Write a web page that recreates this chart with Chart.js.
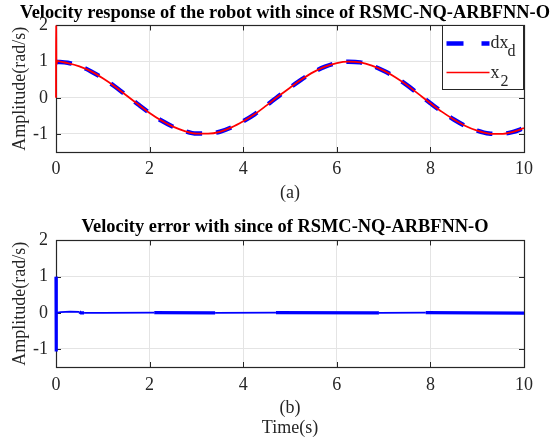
<!DOCTYPE html>
<html>
<head>
<meta charset="utf-8">
<script src="https://cdn.jsdelivr.net/npm/chart.js@4.4.1/dist/chart.umd.min.js"></script>
<style>
  body { margin: 0; background: #fff; }
  #wrap { position: relative; width: 560px; height: 443px; }
  .box { position: absolute; left: 0; width: 560px; }
</style>
</head>
<body>
<div id="wrap">
  <div class="box" style="top:0"><canvas id="responseChart" width="560" height="205"></canvas></div>
  <div class="box" style="top:200px"><canvas id="errorChart" width="560" height="243"></canvas></div>
</div>
<script>
// Du lieu doc tu hinh
const timeS = [0, 0.25, 0.5, 0.75, 1, 1.25, 1.5, 1.75, 2, 2.25, 2.5, 2.75, 3, 3.25, 3.5, 3.75, 4,
    4.25, 4.5, 4.75, 5, 5.25, 5.5, 5.75, 6, 6.25, 6.5, 6.75, 7, 7.25, 7.5, 7.75, 8,
    8.25, 8.5, 8.75, 9, 9.25, 9.5, 9.75, 10];
const dxdVals = [1.00, 0.97, 0.88, 0.73, 0.54, 0.32, 0.07, -0.18, -0.42, -0.63, -0.80, -0.92, -0.99,
    -0.99, -0.94, -0.82, -0.65, -0.45, -0.21, 0.04, 0.28, 0.51, 0.71, 0.86, 0.96, 1.00, 0.98,
    0.89, 0.75, 0.57, 0.35, 0.10, -0.15, -0.39, -0.60, -0.78, -0.91, -0.99, -1.00, -0.95, -0.84];

const x2Time = [0, 0.003, 0.008, 0.03, 0.12, 0.25, 0.5, 0.75, 1, 1.25, 1.5, 1.75, 2, 2.25, 2.5, 2.75, 3,
    3.25, 3.5, 3.75, 4, 4.25, 4.5, 4.75, 5, 5.25, 5.5, 5.75, 6, 6.25, 6.5, 6.75, 7, 7.25, 7.5,
    7.75, 8, 8.25, 8.5, 8.75, 9, 9.25, 9.5, 9.75, 10];
const x2Vals = [0, 2.4, 0.92, 1.02, 0.99, 0.96, 0.87, 0.73, 0.54, 0.32, 0.07, -0.18, -0.42, -0.63,
    -0.80, -0.92, -0.99, -0.99, -0.94, -0.82, -0.65, -0.45, -0.21, 0.04, 0.28, 0.51, 0.71, 0.86,
    0.96, 1.00, 0.98, 0.89, 0.75, 0.57, 0.35, 0.10, -0.15, -0.39, -0.60, -0.78, -0.91, -0.99,
    -1.00, -0.95, -0.84];

const errTime = [0, 0.002, 0.004, 0.006, 0.01, 0.1, 0.3, 0.5, 0.53, 0.6, 1.0, 2.1, 3.4, 4.7, 6.9, 7.9, 10];
const errVals = [1.0, -1.07, 0.3, -0.05, 0.0, 0.02, 0.03, 0.025, 0.0, 0.0, 0.0, 0.005, 0.0, 0.005, 0.0, 0.005, -0.01];
// cac doan dao dong nho (net dam hon)
const chatterZones = [[0, 0.01], [0.5, 0.6], [2.1, 3.4], [4.7, 6.9], [7.9, 10]];

const xTickVals = [0, 2, 4, 6, 8, 10];
const yTickVals = [-1, 0, 1, 2];

const serif = "'Liberation Serif', 'Times New Roman', serif";
const gridColor = '#e4e4e4';
const textColor = '#262626';

function toPoints(xs, ys) {
    return xs.map((x, i) => ({ x: x, y: ys[i] }));
}

// Khung truc va vach chia huong vao trong (kieu MATLAB)
const frameTicks = {
    id: 'frameTicks',
    beforeDatasetsDraw(chart) {
        const { ctx, chartArea: a, scales } = chart;
        ctx.save();
        ctx.strokeStyle = '#262626';
        ctx.lineWidth = 1;
        ctx.beginPath();
        xTickVals.forEach(v => {
            const px = Math.round(scales.x.getPixelForValue(v)) + 0.5;
            ctx.moveTo(px, a.bottom); ctx.lineTo(px, a.bottom - 5);
            ctx.moveTo(px, a.top); ctx.lineTo(px, a.top + 5);
        });
        yTickVals.forEach(v => {
            const py = Math.round(scales.y.getPixelForValue(v)) + 0.5;
            ctx.moveTo(a.left, py); ctx.lineTo(a.left + 5, py);
            ctx.moveTo(a.right, py); ctx.lineTo(a.right - 5, py);
        });
        ctx.stroke();
        ctx.lineWidth = 1.2;
        ctx.strokeRect(Math.round(a.left) + 0.5, Math.round(a.top) + 0.5,
            Math.round(a.right - a.left), Math.round(a.bottom - a.top));
        ctx.restore();
    }
};

// Chu giai co chi so duoi
const subLegend = {
    id: 'subLegend',
    afterDatasetsDraw(chart) {
        const { ctx, chartArea: a } = chart;
        const w = 81, h = 64;
        const x0 = Math.round(a.right) - w - 1 + 0.5;
        const y0 = Math.round(a.top) + 0.5;
        ctx.save();
        ctx.fillStyle = '#fff';
        ctx.fillRect(x0, y0, w, h);
        ctx.strokeStyle = '#262626';
        ctx.lineWidth = 1;
        ctx.strokeRect(x0, y0, w, h);

        ctx.strokeStyle = '#0000ff';
        ctx.lineWidth = 4.5;
        ctx.setLineDash([17, 18]);
        ctx.beginPath(); ctx.moveTo(x0 + 4, y0 + 18); ctx.lineTo(x0 + 47, y0 + 18); ctx.stroke();
        ctx.setLineDash([]);
        ctx.strokeStyle = '#ff0000';
        ctx.lineWidth = 1.3;
        ctx.beginPath(); ctx.moveTo(x0 + 4, y0 + 47); ctx.lineTo(x0 + 47, y0 + 47); ctx.stroke();

        ctx.fillStyle = textColor;
        ctx.textBaseline = 'alphabetic';
        ctx.font = '18px ' + serif;
        ctx.fillText('dx', x0 + 48, y0 + 22);
        ctx.fillText('x', x0 + 48, y0 + 52);
        ctx.font = '16px ' + serif;
        ctx.fillText('d', x0 + 65, y0 + 30);
        ctx.fillText('2', x0 + 58, y0 + 60);
        ctx.restore();
    }
};

function makeOptions(titleText, xTitle, titlePad, xAxisH, xTickPad, xTitlePadBottom) {
    return {
        responsive: false,
        animation: false,
        events: [],
        layout: { padding: { left: 10, right: 0, top: 0, bottom: 0 } },
        plugins: {
            legend: { display: false },
            tooltip: { enabled: false },
            title: {
                display: true,
                text: titleText,
                color: '#000',
                font: { family: serif, size: 18.4, weight: 'bold', lineHeight: 1.2 },
                padding: titlePad
            }
        },
        scales: {
            x: {
                type: 'linear',
                min: 0, max: 10,
                grid: { color: gridColor, drawTicks: false },
                border: { display: false },
                ticks: {
                    stepSize: 2, color: textColor, padding: xTickPad,
                    maxRotation: 0, autoSkip: false,
                    font: { family: serif, size: 18 }
                },
                title: {
                    display: true, text: xTitle, color: textColor,
                    font: { family: serif, size: 18, lineHeight: 1.11 },
                    padding: { top: 0, bottom: xTitlePadBottom }
                },
                afterFit(scale) { scale.height = xAxisH; }
            },
            y: {
                min: -1.5, max: 2,
                grid: { color: gridColor, drawTicks: false },
                border: { display: false },
                afterBuildTicks(scale) { scale.ticks = yTickVals.map(v => ({ value: v })); },
                ticks: { color: textColor, padding: 8, font: { family: serif, size: 18 } },
                title: {
                    display: true, text: 'Amplitude(rad/s)', color: textColor,
                    font: { family: serif, size: 18, lineHeight: 1.11 },
                    padding: { top: 0, bottom: 0 }
                },
                afterFit(scale) { scale.width = 46; }
            },
            yRight: {
                position: 'right',
                min: 0, max: 1,
                grid: { display: false },
                border: { display: false },
                ticks: { display: false },
                afterFit(scale) { scale.width = 36; }
            }
        }
    };
}

new Chart(document.getElementById('responseChart').getContext('2d'), {
    type: 'line',
    data: {
        datasets: [{
            label: 'x2',
            data: toPoints(x2Time, x2Vals),
            borderColor: '#ff0000',
            borderWidth: 1.8,
            pointRadius: 0,
            cubicInterpolationMode: 'monotone',
            clip: { left: 3, top: 0, right: 0, bottom: 0 },
            order: 0
        }, {
            label: 'dxd',
            data: toPoints(timeS, dxdVals),
            borderColor: '#0000ff',
            borderWidth: 4.5,
            borderDash: [16, 14],
            pointRadius: 0,
            cubicInterpolationMode: 'monotone',
            order: 1
        }]
    },
    options: makeOptions('Velocity response of the robot with since of RSMC-NQ-ARBFNN-O',
        '(a)', { top: 2, bottom: 1.4 }, 53, 6, 2),
    plugins: [frameTicks, subLegend]
});

function inChatter(x) {
    return chatterZones.some(z => x >= z[0] && x < z[1]);
}

new Chart(document.getElementById('errorChart').getContext('2d'), {
    type: 'line',
    data: {
        datasets: [{
            label: 'error',
            data: toPoints(errTime, errVals),
            borderColor: '#0000ff',
            borderWidth: 1.8,
            pointRadius: 0,
            tension: 0,
            clip: { left: 3, top: 0, right: 0, bottom: 0 },
            segment: {
                borderWidth: c => inChatter(c.p0.parsed.x) ? 3.2 : 1.8
            }
        }]
    },
    options: makeOptions('Velocity error with since of RSMC-NQ-ARBFNN-O',
        ['(b)', 'Time(s)'], { top: 16, bottom: 2.4 }, 76, 7, 5),
    plugins: [frameTicks]
});
</script>
</body>
</html>
